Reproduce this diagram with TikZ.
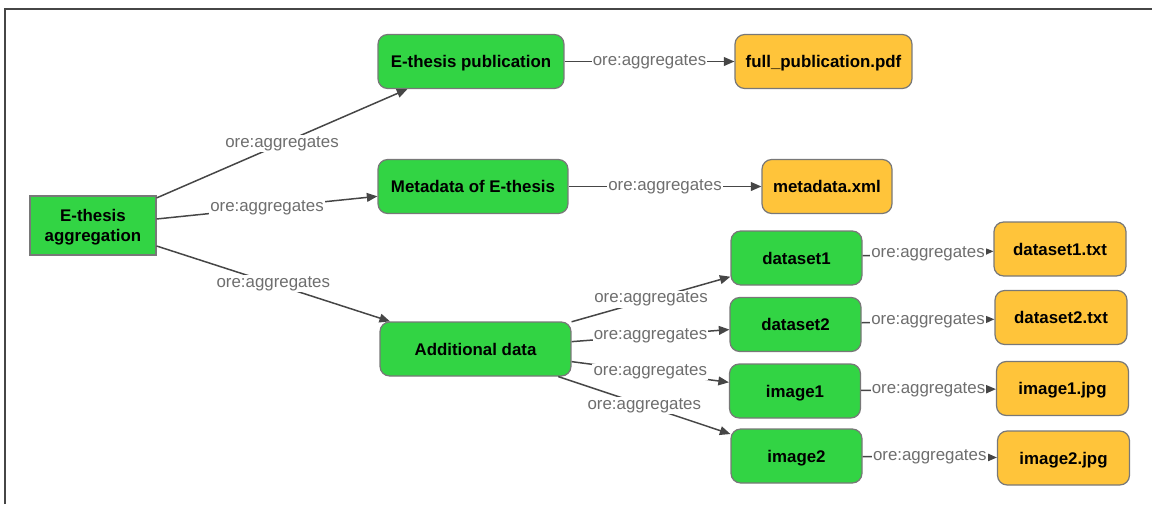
\documentclass[tikz,border=0pt]{standalone}
\usepackage{fontspec}
\setmainfont{Liberation Sans}
\usetikzlibrary{arrows.meta,positioning}

\definecolor{aggreen}{RGB}{50,212,68}
\definecolor{fileorange}{RGB}{255,196,58}
\definecolor{edgegray}{RGB}{70,70,70}
\definecolor{boxgray}{RGB}{120,120,120}
\definecolor{lblgray}{RGB}{110,110,110}

\tikzset{
  res/.style={draw=boxgray, line width=0.7pt, rounded corners=5.5pt, minimum height=1.08cm,
    inner sep=2pt, text depth=0pt, font=\bfseries\fontsize{9.6}{11.5}\selectfont},
  part/.style={res, fill=aggreen},
  filebox/.style={res, fill=fileorange},
  rel/.style={draw=edgegray, line width=0.85pt, -{Triangle[length=6pt,width=5pt]}},
  rellbl/.style={fill=white, text=lblgray, inner sep=0.6pt, font=\fontsize{9.6}{11.5}\selectfont}
}

\begin{document}
\begin{tikzpicture}[x=0.02cm, y=-0.02cm]
  \useasboundingbox (0,0) rectangle (1152,504);
  % frame of the screenshot
  \draw[edgegray, line width=0.85pt] (5,504) -- (5,9) -- (1152,9);

  % aggregation and its parts
  \node[part, rounded corners=0pt, minimum width=2.52cm, minimum height=1.18cm, align=center]
    (agg) at (93,225.5) {E-thesis\\aggregation};
  \node[part, minimum width=3.72cm] (pub)  at (471,61.5)  {E-thesis publication};
  \node[part, minimum width=3.80cm] (meta) at (473,186.5) {Metadata of E-thesis};
  \node[part, minimum width=3.82cm] (add)  at (475.5,349) {Additional data};

  \foreach \nm/\x/\y/\lbl in {ds1/796.5/258/dataset1, ds2/795.5/324.5/dataset2,
      img1/795/391/image1, img2/796.5/456/image2}{
    \node[part, minimum width=2.62cm] (\nm) at (\x,\y) {\lbl};
  }

  % files
  \node[filebox, minimum width=3.54cm] (pdf) at (823.5,61.5) {full\_publication.pdf};
  \node[filebox, minimum width=2.60cm] (xml) at (827,186.5)  {metadata.xml};
  \foreach \nm/\x/\y/\lbl in {ds1f/1060/249/dataset1.txt, ds2f/1061/317.5/dataset2.txt,
      img1f/1062.5/388.5/image1.jpg, img2f/1063.5/458/image2.jpg}{
    \node[filebox, minimum width=2.64cm] (\nm) at (\x,\y) {\lbl};
  }

  % ore:aggregates links
  \foreach \a/\b in {agg/pub, agg/meta, agg/add, pub/pdf, meta/xml,
      add/ds1, add/ds2, add/img1, add/img2,
      ds1/ds1f, ds2/ds2f, img1/img1f, img2/img2f}{
    \draw[rel] (\a) -- node[rellbl] {ore:aggregates} (\b);
  }
\end{tikzpicture}
\end{document}
